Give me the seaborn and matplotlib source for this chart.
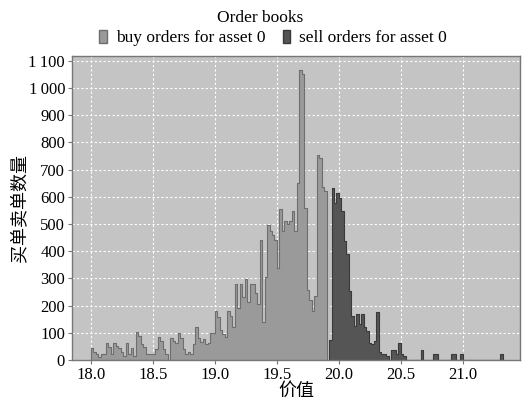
import numpy as np
import pandas as pd
import matplotlib
matplotlib.use("Agg")
import matplotlib.pyplot as plt
import seaborn as sns
from matplotlib.patches import Patch
from matplotlib.ticker import FuncFormatter

# order counts per 0.02 price bin
bin_width = 0.02
buy_start = 18.00
buy_counts = [43, 30, 22, 10, 22, 22, 62, 49, 22, 62,
              52, 43, 28, 15, 62, 22, 43, 15, 104, 89,
              59, 46, 22, 22, 22, 22, 40, 83, 71, 40,
              22, 0, 81, 69, 61, 98, 81, 40, 22, 30,
              22, 59, 122, 81, 65, 77, 59, 61, 98, 98,
              181, 157, 110, 95, 83, 181, 163, 120, 279, 193,
              279, 230, 297, 212, 279, 279, 245, 206, 440, 138,
              304, 497, 475, 460, 440, 340, 555, 475, 512, 499,
              512, 548, 475, 650, 1067, 1050, 560, 257, 220, 180,
              236, 754, 744, 636, 623]
sell_start = 19.92
sell_counts = [73, 634, 579, 615, 597, 548, 438, 389, 255, 160,
               125, 169, 132, 169, 120, 108, 62, 59, 71, 175,
               28, 23, 23, 16, 0, 38, 38, 23, 62, 23,
               16, 0, 0, 0, 0, 0, 0, 38, 0, 0,
               0, 0, 23, 23, 0, 0, 0, 0, 0, 23,
               23, 0, 0, 23, 0, 0, 0, 0, 0, 0,
               0, 0, 0, 0, 0, 0, 0, 0, 0, 23]

x_ticks = [18.0, 18.5, 19.0, 19.5, 20.0, 20.5, 21.0]
y_ticks = list(range(0, 1101, 100))
legend_labels = ["buy orders for asset 0", "sell orders for asset 0"]

buy = pd.DataFrame({"price": buy_start + bin_width * (np.arange(len(buy_counts)) + 0.5),
                    "count": buy_counts})
sell = pd.DataFrame({"price": sell_start + bin_width * (np.arange(len(sell_counts)) + 0.5),
                     "count": sell_counts})

buy_col, sell_col = "#9a9a9a", "#555555"
buy_edge, sell_edge = "#6e6e6e", "#3a3a3a"

fig = plt.figure(figsize=(5.23, 4.01), dpi=100)
ax = fig.add_axes([72 / 523, 1 - 360 / 401, 448 / 523, 304 / 401])
ax.set_facecolor("#c4c4c4")

sns.histplot(data=buy, x="price", weights="count", binwidth=bin_width,
             binrange=(buy_start, buy_start + bin_width * len(buy_counts)),
             element="step", fill=True, color=buy_col, alpha=1,
             edgecolor=buy_edge, linewidth=0.8, ax=ax)
sns.histplot(data=sell, x="price", weights="count", binwidth=bin_width,
             binrange=(sell_start, sell_start + bin_width * len(sell_counts)),
             element="step", fill=True, color=sell_col, alpha=1,
             edgecolor=sell_edge, linewidth=0.8, ax=ax)

ax.set_xlim(17.847, 21.46)
ax.set_ylim(0, 1118)
ax.set_xticks(x_ticks)
ax.set_yticks(y_ticks)
ax.xaxis.set_major_formatter(FuncFormatter(lambda v, p: f"{v:.1f}"))
ax.yaxis.set_major_formatter(FuncFormatter(lambda v, p: f"{v:,.0f}".replace(",", "\u2009")))
ax.grid(True, color="white", linestyle=(0, (2, 2)), linewidth=0.8)
ax.set_axisbelow(True)

serif = ["Liberation Serif", "DejaVu Serif"]
for lab in ax.get_xticklabels() + ax.get_yticklabels():
    lab.set_family(serif)
    lab.set_fontsize(12)
ax.tick_params(length=3, color="#777777", pad=2)
for s in ax.spines.values():
    s.set_color("#777777")
    s.set_linewidth(1.0)

ax.set_xlabel("价值", family=["Noto Sans CJK SC", "DejaVu Sans"], fontsize=13, labelpad=-1)
ax.set_ylabel("买单卖单数量", family=["Noto Sans CJK SC", "DejaVu Sans"], fontsize=13, labelpad=0)

fig.text(0.497, 1 - 18 / 401, "Order books", ha="center", va="center",
         family=serif, fontsize=12.5)
handles = [Patch(facecolor=buy_col, edgecolor=buy_edge),
           Patch(facecolor=sell_col, edgecolor=sell_edge)]
fig.legend(handles, legend_labels, loc="center", bbox_to_anchor=(0.522, 1 - 38 / 401),
           ncol=2, frameon=False, handlelength=0.45, handleheight=0.75,
           handletextpad=0.5, columnspacing=1.0, prop={"family": serif, "size": 12.5})

fig.savefig("out.png", dpi=100)
